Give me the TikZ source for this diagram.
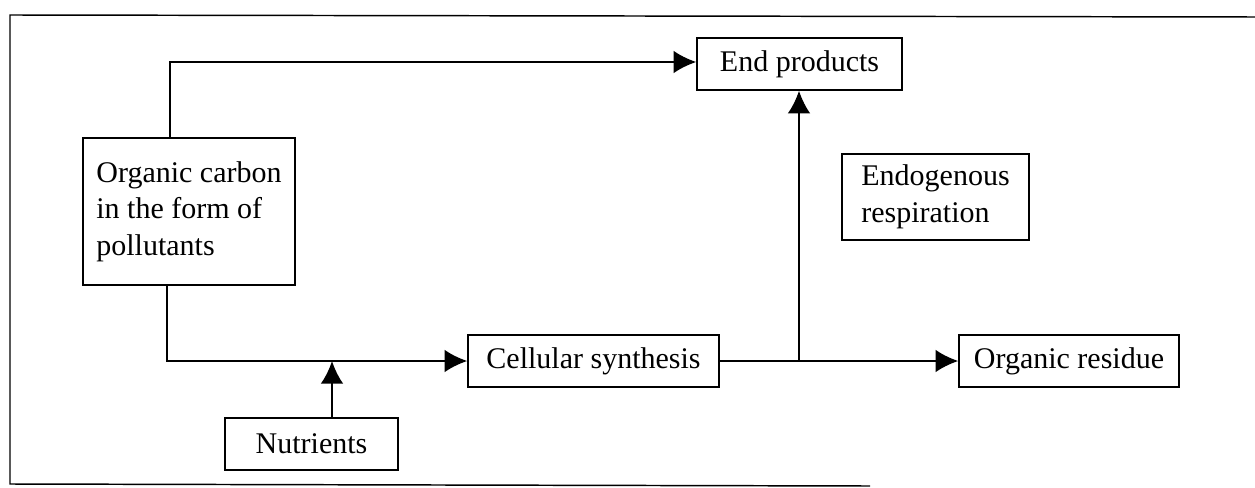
\documentclass[tikz,border=0pt]{standalone}
\usepackage{fontspec}
\setmainfont{Liberation Serif}
\usetikzlibrary{arrows.meta}
\begin{document}
\begin{tikzpicture}[x=0.75pt,y=-0.75pt,
  box/.style={draw,line width=1.1pt,inner sep=0pt,align=left,
    font=\fontsize{22.5}{27.4}\selectfont},
  conn/.style={line width=1.6pt,-{Latex[length=17pt,width=17pt]}}]
\useasboundingbox (0,0) rectangle (1255,488);
\fill[white] (0,0) rectangle (1255,488);
% outer frame (open on the right)
\draw[line width=1.1pt] (1255,17) -- (10,15) -- (10,484) -- (870,486);
% nodes (sizes in pt = px * 0.75)
\node[box,minimum width=159pt,minimum height=110.25pt] (oc) at (189,211.5) {Organic carbon\\in the form of\\pollutants};
\node[box,minimum width=153.75pt,minimum height=39pt] (ep) at (799.5,64) {End products};
\node[box,minimum width=188.25pt,minimum height=39pt] (cs) at (593.5,361) {Cellular synthesis};
\node[box,minimum width=129.75pt,minimum height=39pt] (nu) at (311.5,444) {Nutrients};
\node[box,minimum width=140.25pt,minimum height=64.5pt] (er) at (935.5,197) {Endogenous\\respiration};
\node[box,minimum width=165pt,minimum height=39pt] (or) at (1069,361) {Organic residue};
% junction points
\coordinate (top) at (170,62);
\coordinate (bot) at (167,361);
\coordinate (nj) at (332,361);
\coordinate (bj) at (799,361);
% connectors
\draw[conn] (oc.north -| top) -- (top) -- (ep.west |- top);
\draw[conn] (oc.south -| bot) -- (bot) -- (cs.west);
\draw[conn] (nu.north -| nj) -- (nj);
\draw[conn] (cs.east) -- (or.west);
\draw[conn] (bj) -- (ep.south -| bj);
\end{tikzpicture}
\end{document}
